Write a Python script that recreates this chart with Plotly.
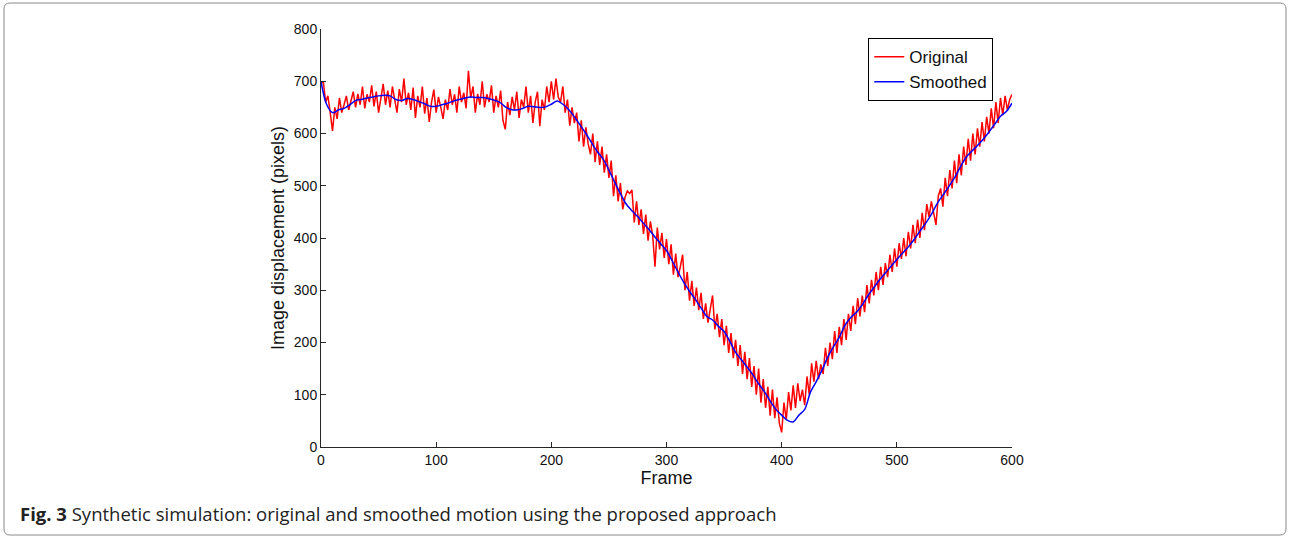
import plotly.graph_objects as go

# ---- data ----
orig_frames = list(range(0, 601, 2))
orig_values = [
    # frames 0 .. 206
    695, 700, 660, 672, 640, 605, 650, 628, 668, 640,
    655, 672, 645, 662, 680, 650, 676, 655, 690, 648,
    675, 660, 692, 652, 680, 640, 670, 695, 655, 682,
    650, 690, 665, 640, 685, 660, 705, 655, 678, 645,
    688, 630, 672, 650, 690, 638, 668, 622, 660, 684,
    640, 670, 650, 628, 665, 645, 685, 655, 675, 640,
    690, 660, 678, 648, 720, 668, 690, 640, 676, 655,
    700, 650, 675, 660, 692, 640, 672, 650, 682, 625,
    608, 660, 635, 670, 645, 680, 630, 665, 650, 690,
    640, 672, 620, 660, 680, 614, 665, 645, 690, 660,
    700, 665, 705, 670,
    # frames 208 .. 400
    660, 690, 640, 665, 615, 650, 620, 640, 585, 625,
    575, 612, 580, 560, 600, 545, 585, 540, 575, 525,
    560, 515, 548, 480, 520, 470, 505, 455, 478, 490,
    485, 492, 430, 470, 425, 455, 408, 445, 395, 432,
    405, 345, 420, 378, 410, 362, 398, 350, 388, 330,
    370, 325, 345, 368, 300, 335, 280, 318, 270, 305,
    262, 295, 245, 275, 238, 262, 290, 225, 255, 210,
    245, 195, 232, 180, 218, 170, 205, 155, 195, 140,
    182, 130, 170, 115, 155, 100, 150, 85, 130, 75,
    115, 60, 110, 55, 95, 45, 28,
    # frames 402 .. 600
    85, 52, 105, 70, 118, 75, 122, 88, 110, 80,
    135, 100, 160, 125, 165, 130, 158, 140, 190, 155,
    200, 168, 222, 180, 230, 195, 245, 205, 255, 222,
    270, 235, 285, 250, 290, 258, 310, 275, 320, 290,
    335, 300, 345, 310, 352, 325, 368, 335, 380, 345,
    390, 360, 400, 365, 412, 380, 425, 390, 435, 400,
    448, 415, 465, 440, 470, 445, 425, 480, 495, 460,
    515, 480, 530, 495, 548, 505, 560, 520, 575, 540,
    590, 548, 600, 560, 610, 575, 622, 585, 632, 600,
    648, 610, 660, 620, 668, 635, 672, 645, 665, 675,
]

smooth_frames = list(range(0, 601, 5))
smooth_values = [
    700, 655, 640, 645, 648, 655, 663, 665, 668, 670,
    672, 673, 672, 665, 663, 667, 665, 661, 657, 652,
    652, 655, 658, 662, 665, 668, 670, 669, 669, 667,
    664, 660, 651, 646, 645, 648, 652, 651, 650, 651,
    656, 662, 656, 646, 632, 616, 600, 582, 565, 551,
    530, 507, 485, 465, 452, 441, 428, 416, 402, 389,
    376, 356, 335, 315, 298, 283, 266, 250, 243, 231,
    221, 202, 181, 167, 153, 138, 121, 106, 88, 72,
    61, 51, 48, 61, 72, 105, 125, 147, 172, 192,
    210, 233, 248, 258, 272, 290, 305, 320, 333, 346,
    359, 371, 383, 397, 413, 428, 445, 466, 482, 498,
    515, 535, 554, 566, 577, 589, 603, 618, 633, 642,
    658,
]

x_ticks = [0, 100, 200, 300, 400, 500, 600]
y_ticks = [0, 100, 200, 300, 400, 500, 600, 700, 800]

fig = go.Figure()
fig.add_trace(go.Scatter(x=orig_frames, y=orig_values, mode="lines", name="Original",
                         line=dict(color="#ff0000", width=1.5)))
fig.add_trace(go.Scatter(x=smooth_frames, y=smooth_values, mode="lines", name="Smoothed",
                         line=dict(color="#0000ff", width=1.5, shape="spline")))

axis_common = dict(showgrid=False, zeroline=False, showline=True, linecolor="#262626",
                   linewidth=1, ticks="inside", ticklen=5, tickcolor="#262626",
                   tickfont=dict(family="Liberation Sans, Arial", size=14, color="#111111"),
                   mirror=False)

fig.update_layout(
    width=1290, height=539,
    paper_bgcolor="white", plot_bgcolor="white",
    margin=dict(l=321, r=278, t=29, b=92),
    xaxis=dict(range=[0, 600], tickvals=x_ticks, title=dict(text="Frame", standoff=2,
               font=dict(family="Liberation Sans, Arial", size=18, color="#111111")), **axis_common),
    yaxis=dict(range=[0, 800], tickvals=y_ticks, title=dict(text="Image displacement (pixels)", standoff=4,
               font=dict(family="Liberation Sans, Arial", size=18, color="#111111")), **axis_common),
    legend=dict(x=0.792, y=0.978, xanchor="left", yanchor="top", bgcolor="white",
                bordercolor="#000000", borderwidth=1, tracegroupgap=0,
                font=dict(family="Liberation Sans, Arial", size=17, color="#111111")),
    showlegend=True,
)

# outer rounded frame (paper coordinates)
pw, ph = 691.0, 418.0
def px(xp):
    return (xp - 321) / pw
def py(yp):
    return (447 - yp) / ph
r = 6
x0, x1, y0, y1 = 4, 1286, 3, 535
path = (f"M {px(x0 + r)},{py(y0)} L {px(x1 - r)},{py(y0)} Q {px(x1)},{py(y0)} {px(x1)},{py(y0 + r)} "
        f"L {px(x1)},{py(y1 - r)} Q {px(x1)},{py(y1)} {px(x1 - r)},{py(y1)} "
        f"L {px(x0 + r)},{py(y1)} Q {px(x0)},{py(y1)} {px(x0)},{py(y1 - r)} "
        f"L {px(x0)},{py(y0 + r)} Q {px(x0)},{py(y0)} {px(x0 + r)},{py(y0)} Z")
fig.add_shape(type="path", path=path, xref="paper", yref="paper",
              line=dict(color="#8a8a8a", width=1), fillcolor="rgba(0,0,0,0)", layer="below")

fig.add_annotation(x=px(18), y=py(513), xref="paper", yref="paper", xanchor="left", yanchor="middle",
                   showarrow=False,
                   text="<b>Fig. 3</b> Synthetic simulation: original and smoothed motion using the proposed approach",
                   font=dict(family="Liberation Sans Narrow, Open Sans, Arial", size=18.5, color="#222222"))

fig.write_html("out.html")
